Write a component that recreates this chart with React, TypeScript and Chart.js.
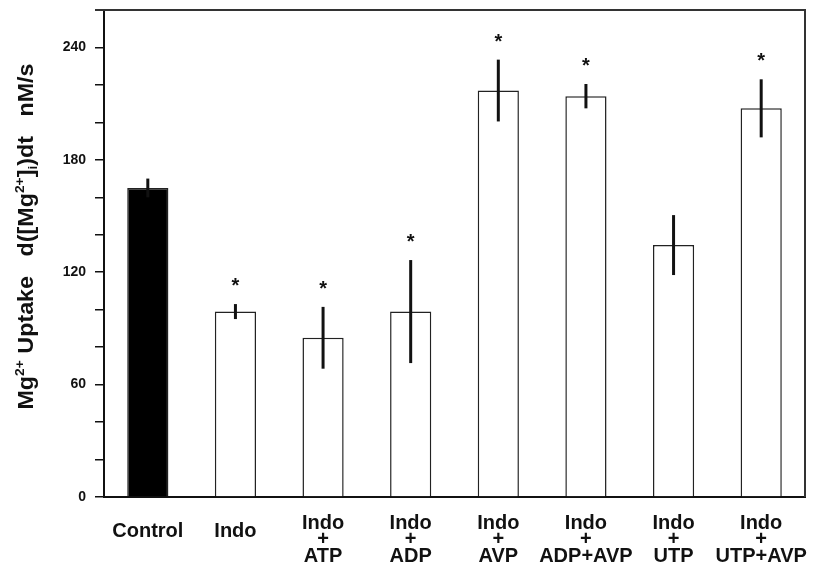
import React, { useEffect, useRef } from "react";
import { Chart, registerables } from "chart.js";

Chart.register(...registerables);

// ---- data ----
const categories: string[][] = [
  ["Control", ""],
  ["Indo", ""],
  ["Indo", "+", "ATP"],
  ["Indo", "+", "ADP"],
  ["Indo", "+", "AVP"],
  ["Indo", "+", "ADP+AVP"],
  ["Indo", "+", "UTP"],
  ["Indo", "+", "UTP+AVP"],
];
const uptakeMeans = [165, 99, 85, 99, 217, 214, 134.5, 207.5];
const uptakeErrors = [5, 4, 16.5, 27.5, 16.5, 6.5, 16, 15.5];
const significant = [false, true, true, true, true, true, false, true];
const barFills = ["#000000", "#ffffff", "#ffffff", "#ffffff", "#ffffff", "#ffffff", "#ffffff", "#ffffff"];
const yLabelledTicks = [0, 60, 120, 180, 240];
const yMin = 0;
const yMax = 260;
const yMinorStep = 20;

const FONT = "'Liberation Sans', Arial, Helvetica, sans-serif";
const INK = "#111111";

const annotatePlugin = {
  id: "annotate",
  afterDatasetsDraw(chart: any) {
    const ctx = chart.ctx;
    const ys = chart.scales.y;
    const meta = chart.getDatasetMeta(0);
    ctx.save();
    meta.data.forEach((bar: any, i: number) => {
      const top = ys.getPixelForValue(uptakeMeans[i] + uptakeErrors[i]);
      const bot = ys.getPixelForValue(uptakeMeans[i] - uptakeErrors[i]);
      ctx.strokeStyle = INK;
      ctx.lineWidth = 3;
      ctx.beginPath();
      ctx.moveTo(bar.x, top);
      ctx.lineTo(bar.x, bot);
      ctx.stroke();
      if (significant[i]) {
        ctx.fillStyle = INK;
        ctx.font = `bold 20px ${FONT}`;
        ctx.textAlign = "center";
        ctx.textBaseline = "alphabetic";
        ctx.fillText("*", bar.x, top - 12);
      }
    });
    const { left, right, top, bottom } = chart.chartArea;
    ctx.strokeStyle = "#333333";
    ctx.lineWidth = 2;
    ctx.beginPath();
    ctx.moveTo(left - 9, top);
    ctx.lineTo(right, top);
    ctx.lineTo(right, bottom);
    ctx.stroke();
    ctx.restore();
  },
  afterDraw(chart: any) {
    const ctx = chart.ctx;
    const { top, bottom } = chart.chartArea;
    const parts: { t: string; k: "n" | "sup" | "sub" }[] = [
      { t: "Mg", k: "n" },
      { t: "2+", k: "sup" },
      { t: " Uptake   d([Mg", k: "n" },
      { t: "2+", k: "sup" },
      { t: "]", k: "n" },
      { t: "i", k: "sub" },
      { t: ")dt   nM/s", k: "n" },
    ];
    const fontFor = (k: string) => (k === "n" ? `bold 22px ${FONT}` : `bold 13px ${FONT}`);
    const stretch = 1.06;
    ctx.save();
    let total = 0;
    parts.forEach((p) => {
      ctx.font = fontFor(p.k);
      total += ctx.measureText(p.t).width;
    });
    const cx = 25;
    const cy = (top + bottom) / 2 - 17;
    ctx.translate(cx, cy);
    ctx.rotate(-Math.PI / 2);
    ctx.scale(stretch, 1);
    ctx.fillStyle = INK;
    ctx.textAlign = "left";
    ctx.textBaseline = "alphabetic";
    let x = -total / 2;
    parts.forEach((p) => {
      ctx.font = fontFor(p.k);
      const dy = p.k === "sup" ? -9 : p.k === "sub" ? 4 : 0;
      ctx.fillText(p.t, x, dy);
      x += ctx.measureText(p.t).width;
    });
    ctx.restore();
  },
};

export default function App() {
  const canvasRef = useRef<HTMLCanvasElement | null>(null);

  useEffect(() => {
    if (!canvasRef.current) return;
    const chart = new Chart(canvasRef.current, {
      type: "bar",
      data: {
        labels: categories,
        datasets: [
          {
            data: uptakeMeans,
            backgroundColor: barFills,
            borderColor: "#222222",
            borderWidth: 1.5,
            barPercentage: 0.47,
            categoryPercentage: 1,
          },
        ],
      },
      options: {
        animation: false,
        responsive: true,
        maintainAspectRatio: false,
        layout: { padding: { top: 2, right: 19, left: 0, bottom: 0 } },
        plugins: {
          legend: { display: false },
          tooltip: { enabled: false },
          title: { display: false },
        },
        scales: {
          x: {
            offset: true,
            grid: { display: false },
            border: { display: true, color: INK, width: 2 },
            ticks: {
              color: INK,
              font: { family: FONT, size: 20, weight: "bold", lineHeight: 0.84 },
              padding: 18,
              crossAlign: "center",
              maxRotation: 0,
              autoSkip: false,
            },
            afterFit: (scale: any) => {
              scale.height = 71;
              scale.paddingLeft = 0;
              scale.paddingRight = 0;
            },
          },
          y: {
            min: yMin,
            max: yMax,
            grid: {
              display: true,
              drawOnChartArea: false,
              drawTicks: true,
              tickLength: 9,
              color: INK,
              lineWidth: 1.5,
            },
            border: { display: true, color: INK, width: 2 },
            ticks: {
              stepSize: yMinorStep,
              color: INK,
              padding: 9,
              font: { family: FONT, size: 14, weight: "bold" },
              callback: (v: any) => (yLabelledTicks.includes(Number(v)) ? String(v) : ""),
            },
            afterFit: (scale: any) => {
              scale.width = 96;
              scale.paddingTop = 0;
              scale.paddingBottom = 0;
            },
          },
        },
      },
      plugins: [annotatePlugin],
    });
    return () => chart.destroy();
  }, []);

  return (
    <div style={{ width: 816, height: 560, position: "relative" }}>
      <canvas ref={canvasRef} />
    </div>
  );
}
